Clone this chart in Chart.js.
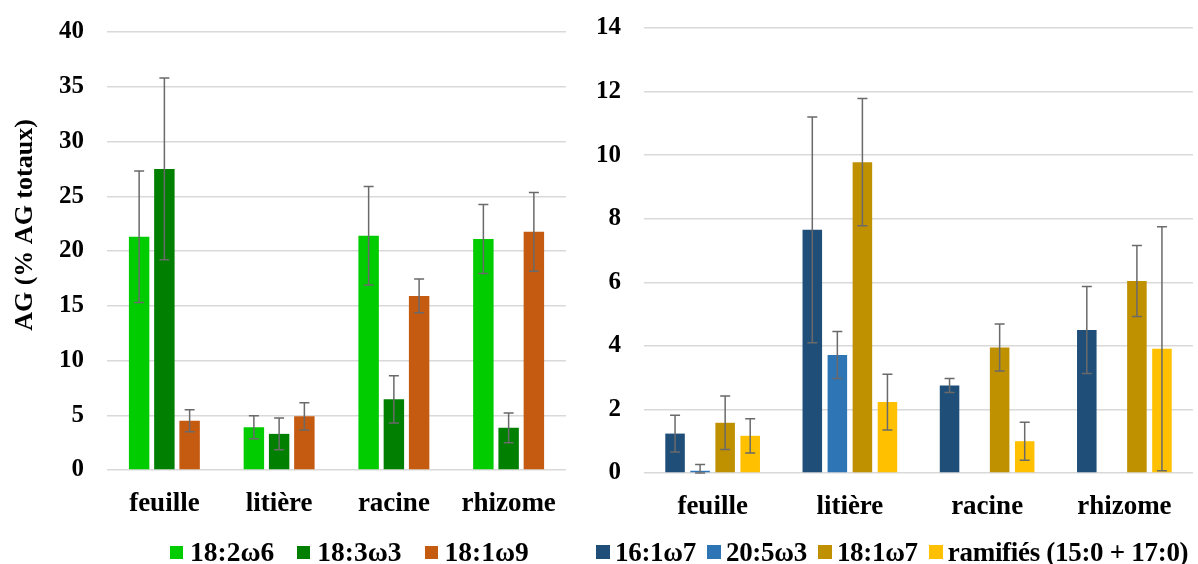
<!DOCTYPE html>
<html><head><meta charset="utf-8">
<script src="https://cdn.jsdelivr.net/npm/chart.js@4"></script>
<style>
html,body{margin:0;padding:0;background:#fff;width:1198px;height:564px;overflow:hidden;position:relative}
.box{position:absolute;top:0;height:564px}
#c1{left:0;width:580px}
#c2{left:580px;width:618px}
.legend{position:absolute;top:537px;height:30px;display:flex;align-items:center;font-family:'Liberation Serif','Times New Roman',serif;font-weight:bold;color:#000;white-space:nowrap;line-height:30px}
#leg1{font-size:27.5px}
#leg2{font-size:27px;letter-spacing:-0.3px}
.legend .sw{display:inline-block;flex:none}
</style></head>
<body>
<div class="box" id="c1"><canvas id="left"></canvas></div>
<div class="box" id="c2"><canvas id="right"></canvas></div>
<div class="legend" id="leg1" style="left:170px"></div>
<div class="legend" id="leg2" style="left:596px"></div>
<script>
// ---- data ----
const categories = ['feuille', 'litière', 'racine', 'rhizome'];

// left panel
const leftLabels = ['18:2ω6', '18:3ω3', '18:1ω9'];
const v18_2w6 = [21.3, 3.9, 21.4, 21.1];
const e18_2w6 = [6.0, 1.05, 4.5, 3.15];
const v18_3w3 = [27.5, 3.3, 6.45, 3.85];
const e18_3w3 = [8.3, 1.45, 2.15, 1.35];
const v18_1w9 = [4.5, 4.9, 15.9, 21.75];
const e18_1w9 = [1.0, 1.25, 1.55, 3.6];
const leftTicks = [0, 5, 10, 15, 20, 25, 30, 35, 40];

// right panel
const rightLabels = ['16:1ω7', '20:5ω3', '18:1ω7', 'ramifiés (15:0 + 17:0)'];
const v16_1w7 = [1.24, 7.65, 2.75, 4.5];
const e16_1w7 = [0.58, 3.55, 0.22, 1.37];
const v20_5w3 = [0.07, 3.71, 0, 0];
const e20_5w3 = [0.2, 0.74, 0, 0];
const v18_1w7 = [1.58, 9.78, 3.95, 6.04];
const e18_1w7 = [0.84, 2.0, 0.74, 1.12];
const vRamif = [1.17, 2.23, 1.0, 3.91];
const eRamif = [0.54, 0.88, 0.6, 3.84];
const rightTicks = [0, 2, 4, 6, 8, 10, 12, 14];

const leftColors = ['#00CC00', '#007F00', '#C55A11'];
const rightColors = ['#1F4E79', '#2E75B6', '#BF9000', '#FFC000'];

const FONT = "'Liberation Serif','Times New Roman',serif";

const errorBars = {
  id: 'errorBars',
  afterDatasetsDraw(chart) {
    const ctx = chart.ctx;
    const ys = chart.scales.y;
    ctx.save();
    ctx.strokeStyle = '#6a6a6a';
    ctx.lineWidth = 1.5;
    chart.data.datasets.forEach((ds, i) => {
      const meta = chart.getDatasetMeta(i);
      meta.data.forEach((bar, j) => {
        const v = ds.data[j], e = ds.errors[j];
        if (!e) return;
        const top = ys.getPixelForValue(v + e);
        const bot = ys.getPixelForValue(Math.max(0, v - e));
        const x = bar.x;
        ctx.beginPath();
        ctx.moveTo(x, top); ctx.lineTo(x, bot);
        ctx.moveTo(x - 5, top); ctx.lineTo(x + 5, top);
        ctx.moveTo(x - 5, bot); ctx.lineTo(x + 5, bot);
        ctx.stroke();
      });
    });
    ctx.restore();
  }
};

const yTitle = {
  id: 'yTitle',
  afterDraw(chart) {
    const ctx = chart.ctx;
    ctx.save();
    ctx.translate(25, 225);
    ctx.rotate(-Math.PI / 2);
    ctx.font = 'bold 26px ' + FONT;
    ctx.fillStyle = '#000';
    ctx.textAlign = 'center';
    ctx.textBaseline = 'middle';
    ctx.fillText('AG (% AG totaux)', 0, 0);
    ctx.restore();
  }
};

function makeChart(id, labels, values, errs, colors, ticks, opts) {
  const datasets = labels.map((l, i) => ({
    label: l, data: values[i], errors: errs[i], backgroundColor: colors[i],
    borderWidth: 0, categoryPercentage: opts.cat, barPercentage: opts.bar
  }));
  return new Chart(document.getElementById(id), {
    type: 'bar',
    data: { labels: categories, datasets },
    options: {
      responsive: true, maintainAspectRatio: false, animation: false,
      layout: { padding: { top: opts.top, right: opts.right, left: 0, bottom: 0 } },
      plugins: { legend: { display: false }, tooltip: { enabled: false } },
      scales: {
        x: {
          grid: { display: false, drawTicks: false },
          border: { display: false },
          ticks: { color: '#000', font: { family: FONT, weight: 'bold', size: 27 }, padding: 18 },
          afterFit(s) { s.height = opts.xh; s.paddingLeft = 0; s.paddingRight = 0; }
        },
        y: {
          min: ticks[0], max: ticks[ticks.length - 1],
          afterBuildTicks(s) { s.ticks = ticks.map(v => ({ value: v })); },
          grid: { color: '#d9d9d9', lineWidth: 1.5, drawTicks: false },
          border: { display: false },
          ticks: { color: '#000', font: { family: FONT, weight: 'bold', size: 25 }, padding: 23 },
          afterFit(s) { s.width = opts.yw; s.paddingTop = 0; s.paddingBottom = 0; }
        }
      }
    },
    plugins: opts.title ? [errorBars, yTitle] : [errorBars]
  });
}

makeChart('left', leftLabels, [v18_2w6, v18_3w3, v18_1w9], [e18_2w6, e18_3w3, e18_1w9],
  leftColors, leftTicks, { cat: 0.66, bar: 0.81, top: 32, right: 14, xh: 94, yw: 107, title: true });
makeChart('right', rightLabels, [v16_1w7, v20_5w3, v18_1w7, vRamif], [e16_1w7, e20_5w3, e18_1w7, eRamif],
  rightColors, rightTicks, { cat: 0.73, bar: 0.78, top: 28, right: 5, xh: 91, yw: 64, title: false });

function buildLegend(id, labels, colors, sw, swGap, itemGap) {
  const el = document.getElementById(id);
  labels.forEach((l, i) => {
    const s = document.createElement('span');
    s.className = 'sw';
    s.style.width = sw + 'px'; s.style.height = sw + 'px';
    s.style.background = colors[i];
    s.style.marginRight = swGap + 'px';
    if (i > 0) s.style.marginLeft = itemGap + 'px';
    const t = document.createElement('span');
    t.textContent = l;
    el.appendChild(s); el.appendChild(t);
  });
}
buildLegend('leg1', leftLabels, leftColors, 13, 7, 23);
buildLegend('leg2', rightLabels, rightColors, 14, 5, 11);
</script>
</body></html>
